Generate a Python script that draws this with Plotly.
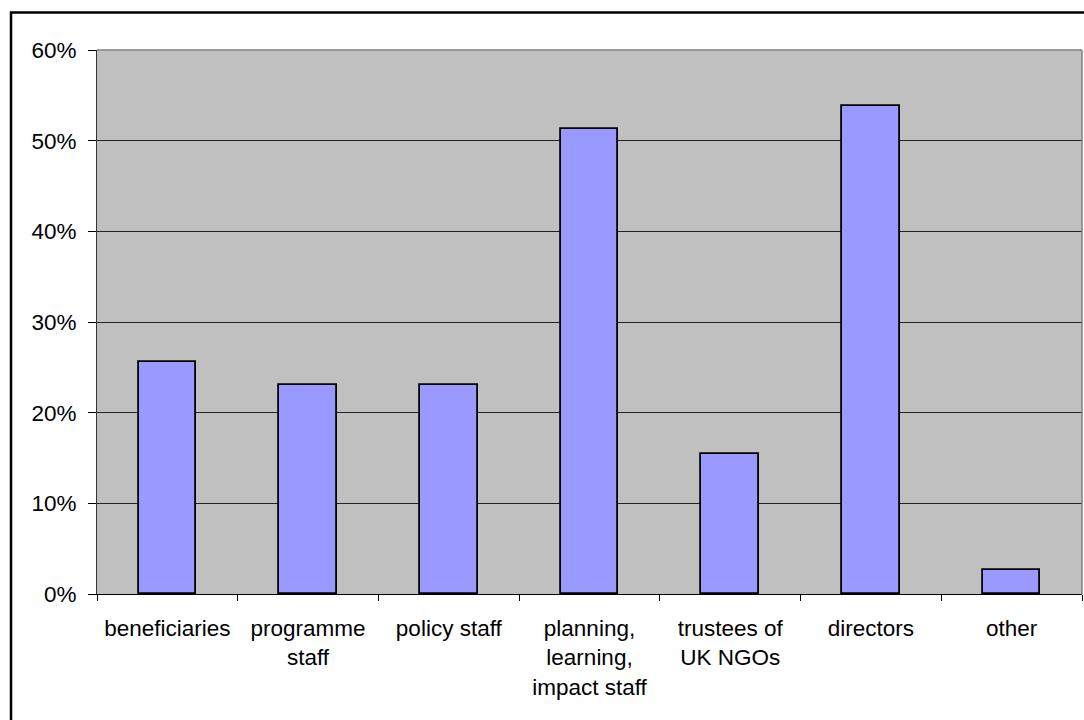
import plotly.graph_objects as go

categories = ["beneficiaries", "programme<br>staff", "policy staff",
              "planning,<br>learning,<br>impact staff", "trustees of<br>UK NGOs",
              "directors", "other"]
values = [0.256, 0.231, 0.231, 0.513, 0.154, 0.538, 0.026]
y_ticks = [0, 0.1, 0.2, 0.3, 0.4, 0.5, 0.6]
y_tick_labels = ["0%", "10%", "20%", "30%", "40%", "50%", "60%"]

FONT = "Liberation Sans, Arial, sans-serif"

fig = go.Figure()
fig.add_trace(go.Bar(
    x=categories, y=values, width=0.41,
    marker=dict(color="#9999FF", line=dict(color="black", width=1.8)),
    hoverinfo="skip",
))

fig.update_layout(
    width=1084, height=720,
    margin=dict(l=97, r=2, t=50, b=126, pad=0),
    paper_bgcolor="white", plot_bgcolor="#C0C0C0",
    font=dict(family=FONT, size=22.5, color="black"),
    showlegend=False,
    bargap=0,
)
fig.update_yaxes(
    range=[0, 0.6], tickvals=y_ticks, ticktext=y_tick_labels,
    showgrid=True, gridcolor="#222222", gridwidth=1,
    ticks="outside", ticklen=8, tickcolor="black", tickwidth=1,
    showline=True, linecolor="#333333", linewidth=1,
    zeroline=False, ticklabelstandoff=7,
)
fig.update_xaxes(
    tickson="boundaries", ticks="outside", ticklen=6, tickcolor="black",
    showline=True, linecolor="black", linewidth=1,
    showgrid=False, tickangle=0, ticklabelstandoff=14,
)
# plot area border (top/right in gray)
fig.add_shape(type="line", xref="paper", yref="paper", x0=0, x1=1, y0=1, y1=1,
              line=dict(color="#808080", width=1.5), layer="above")
fig.add_shape(type="line", xref="paper", yref="paper", x0=1, x1=1, y0=0, y1=1,
              line=dict(color="#808080", width=1.5), layer="above")
# outer chart border
fig.add_shape(type="rect", xref="paper", yref="paper",
              x0=(11 - 97) / 985, x1=1.2, y0=-0.5, y1=(594 - 13) / 543.5,
              line=dict(color="black", width=2.5), fillcolor="rgba(0,0,0,0)",
              layer="above")

fig.write_html("out.html")
